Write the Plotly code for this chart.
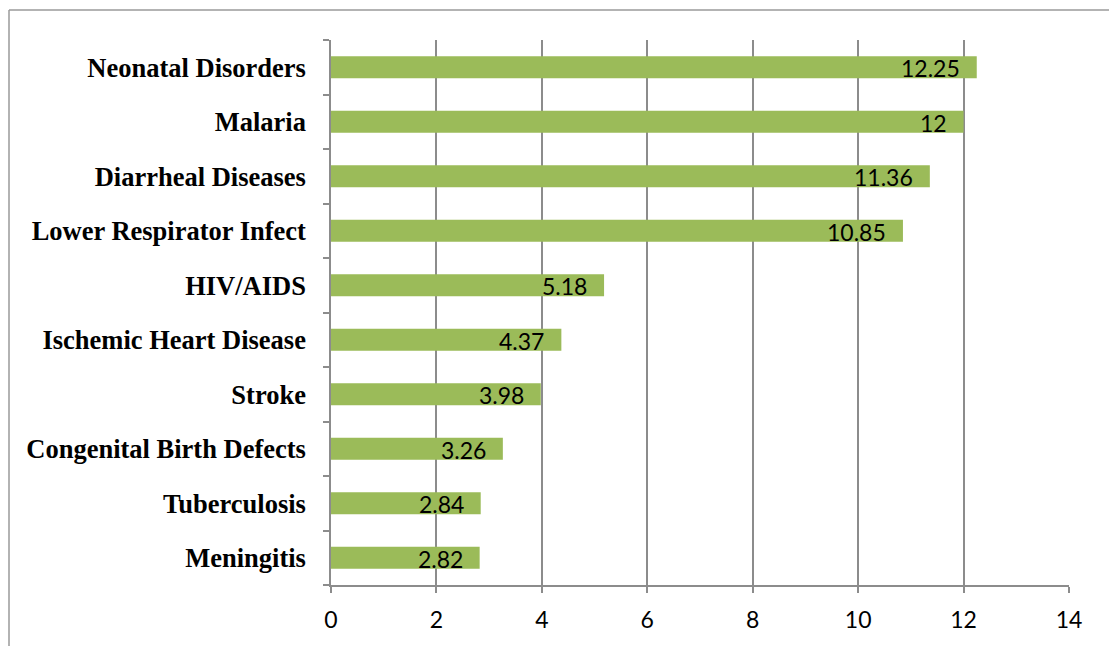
import plotly.graph_objects as go

categories = ["Neonatal Disorders", "Malaria", "Diarrheal Diseases", "Lower Respirator Infect",
              "HIV/AIDS", "Ischemic Heart Disease", "Stroke", "Congenital Birth Defects",
              "Tuberculosis", "Meningitis"]
values = [12.25, 12, 11.36, 10.85, 5.18, 4.37, 3.98, 3.26, 2.84, 2.82]
value_labels = ["12.25", "12", "11.36", "10.85", "5.18", "4.37", "3.98", "3.26", "2.84", "2.82"]
x_ticks = [0, 2, 4, 6, 8, 10, 12, 14]

cats = categories[::-1]
vals = values[::-1]
labs = value_labels[::-1]

W, H = 1109, 646
L, R, T, B = 331, 40, 40, 61
pw, ph = W - L - R, H - T - B

fig = go.Figure(go.Bar(
    y=cats, x=vals, orientation="h",
    marker=dict(color="#9BBB59", line=dict(width=0)),
    hoverinfo="skip",
))

for c, v, t in zip(cats, vals, labs):
    fig.add_annotation(x=v, y=c, text=t, showarrow=False, xanchor="right", yanchor="middle",
                       xshift=-15, yshift=-1,
                       font=dict(family="Lato, Carlito, sans-serif", size=23, color="#000000"))

grid = "#8c8c8c"
fig.update_layout(
    width=W, height=H,
    margin=dict(l=L, r=R, t=T, b=B),
    paper_bgcolor="white", plot_bgcolor="white",
    bargap=0.6,
    showlegend=False,
    xaxis=dict(range=[0, 14], tickvals=x_ticks, showgrid=True, gridcolor=grid, gridwidth=1.5,
               zeroline=False, showline=True, linecolor=grid, linewidth=1.5,
               ticks="outside", ticklen=6, tickcolor=grid, tickwidth=1.5,
               tickfont=dict(family="Lato, Carlito, sans-serif", size=23, color="#000000"),
               ticklabelstandoff=8),
    yaxis=dict(categoryorder="array", categoryarray=cats, showgrid=False, zeroline=False,
               showline=True, linecolor=grid, linewidth=1.5,
               ticks="outside", ticklen=6, tickcolor=grid, tickwidth=1.5, tickson="boundaries",
               tickfont=dict(family="Liberation Serif, Times New Roman, serif", size=26.5,
                             color="#000000", weight="bold"),
               ticklabelstandoff=18),
)

def px_x(p):
    return (p - L) / pw

def px_y(p):
    return (H - B - p) / ph

fig.add_shape(type="line", xref="paper", yref="paper",
              x0=px_x(9), x1=px_x(1115), y0=px_y(10), y1=px_y(10),
              line=dict(color="#9a9a9a", width=1.5))
fig.add_shape(type="line", xref="paper", yref="paper",
              x0=px_x(9), x1=px_x(9), y0=px_y(10), y1=px_y(650),
              line=dict(color="#9a9a9a", width=1.5))

fig.write_html("out.html")
